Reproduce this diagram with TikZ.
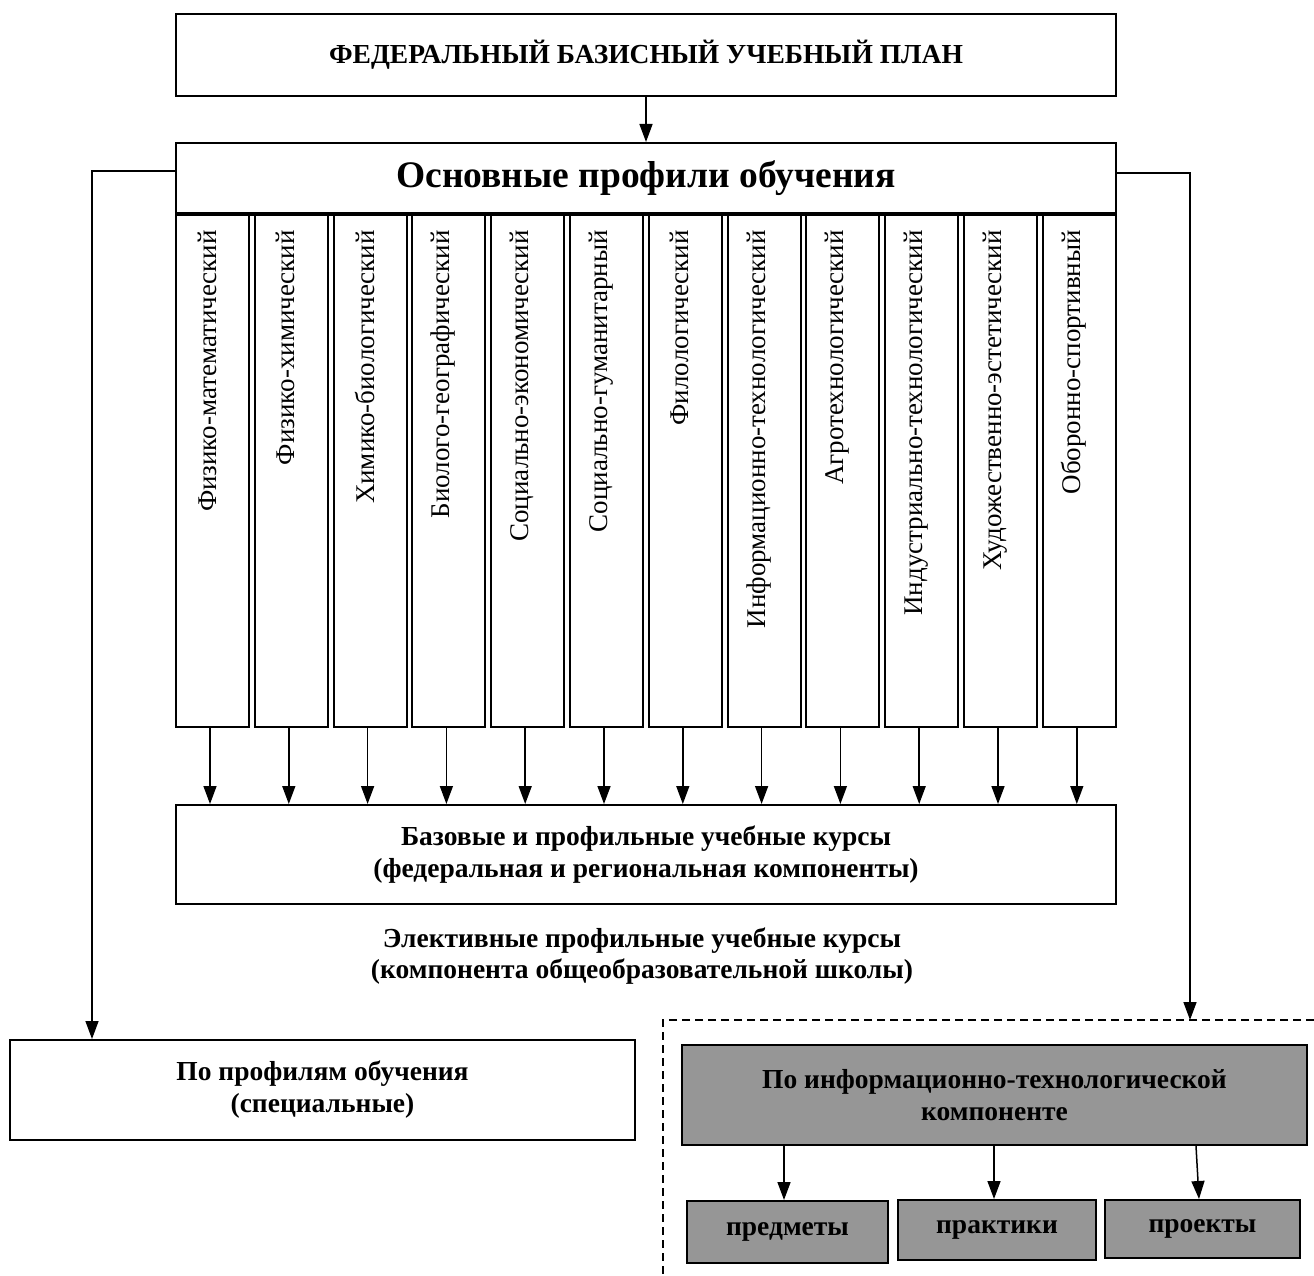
\documentclass[tikz,border=0pt]{standalone}
\usepackage{fontspec}
\setmainfont{Liberation Serif}
\usetikzlibrary{arrows.meta}
\definecolor{panelgray}{RGB}{150,150,150}
\begin{document}
\begin{tikzpicture}[x=1pt,y=-1pt,
  box/.style={draw, line width=2pt, inner sep=0pt, align=center,
    font=\bfseries\fontsize{27.5}{32}\selectfont},
  graybox/.style={box, fill=panelgray},
  profcol/.style={draw, line width=2pt, inner sep=0pt,
    minimum width=73pt, minimum height=514pt},
  proflabel/.style={rotate=90, anchor=east, inner sep=0pt,
    font=\fontsize{27}{30}\selectfont},
  arr/.style={line width=1.5pt, -{Triangle[length=18pt,width=13pt]}},
  frame/.style={line width=1.5pt, dash pattern=on 8pt off 5pt},
]
\useasboundingbox (0,0) rectangle (1314,1276);

% top level
\node[box, minimum width=940pt, minimum height=82pt] (fbup) at (646,55)
  {ФЕДЕРАЛЬНЫЙ БАЗИСНЫЙ УЧЕБНЫЙ ПЛАН};
\node[box, minimum width=940pt, minimum height=70pt,
  font=\bfseries\fontsize{37.5}{44}\selectfont] (main) at (646,178)
  {Основные профили обучения};
\draw[arr] (fbup.south) -- (main.north);

% basic and profile courses
\node[box, minimum width=940pt, minimum height=99pt] (base) at (646,854.5)
  {Базовые и профильные учебные курсы\\(федеральная и региональная компоненты)};

% the twelve profiles
\foreach \i/\t in {0/Физико-математический, 1/Физико-химический,
  2/Химико-биологический, 3/Биолого-географический,
  4/Социально-экономический, 5/Социально-гуманитарный,
  6/Филологический, 7/Информационно-технологический,
  8/Агротехнологический, 9/Индустриально-технологический,
  10/Художественно-эстетический, 11/Оборонно-спортивный} {
  \node[profcol] (c\i) at ({212.5+78.8*\i},470) {};
  \node[proflabel] (t\i) at ({207+78.8*\i},230) {\t};
  \draw[arr] ([xshift=-2.5pt]c\i.south) -- ([xshift=-2.5pt]c\i.south |- base.north);
}
\draw[line width=4pt] (main.south west) -- (main.south east);

% elective courses
\node[align=center, inner sep=0pt, font=\bfseries\fontsize{27.5}{31}\selectfont]
  (elect) at (642,956)
  {Элективные профильные учебные курсы\\(компонента общеобразовательной школы)};

% by profile
\node[box, minimum width=625pt, minimum height=100pt] (prof) at (322.5,1090)
  {По профилям обучения\\(специальные)};
\draw[arr] ([yshift=7pt]main.west) -| ([xshift=-230.5pt]prof.north);

% information technology component
\coordinate (itframe) at (1190,1020);
\draw[frame] (1314,1020) -- (663,1020) -- (663,1276);
\draw[arr] ([yshift=5pt]main.east) -| (itframe);

\node[graybox, minimum width=625pt, minimum height=100pt] (itc) at (994.5,1095)
  {По информационно-технологической\\компоненте};
\node[graybox, minimum width=201pt, minimum height=62pt] (pred) at (787.5,1232) {предметы};
\node[graybox, minimum width=198pt, minimum height=60pt] (prak) at (997,1230) {практики};
\node[graybox, minimum width=195pt, minimum height=58pt] (proj) at (1202.5,1229) {проекты};

\draw[arr] ([xshift=-3.5pt]pred.north |- itc.south) -- ([xshift=-3.5pt]pred.north);
\draw[arr] ([xshift=-3pt]prak.north |- itc.south) -- ([xshift=-3pt]prak.north);
\draw[arr] ([xshift=-6.5pt]proj.north |- itc.south) -- ([xshift=-3.5pt]proj.north);
\end{tikzpicture}
\end{document}
